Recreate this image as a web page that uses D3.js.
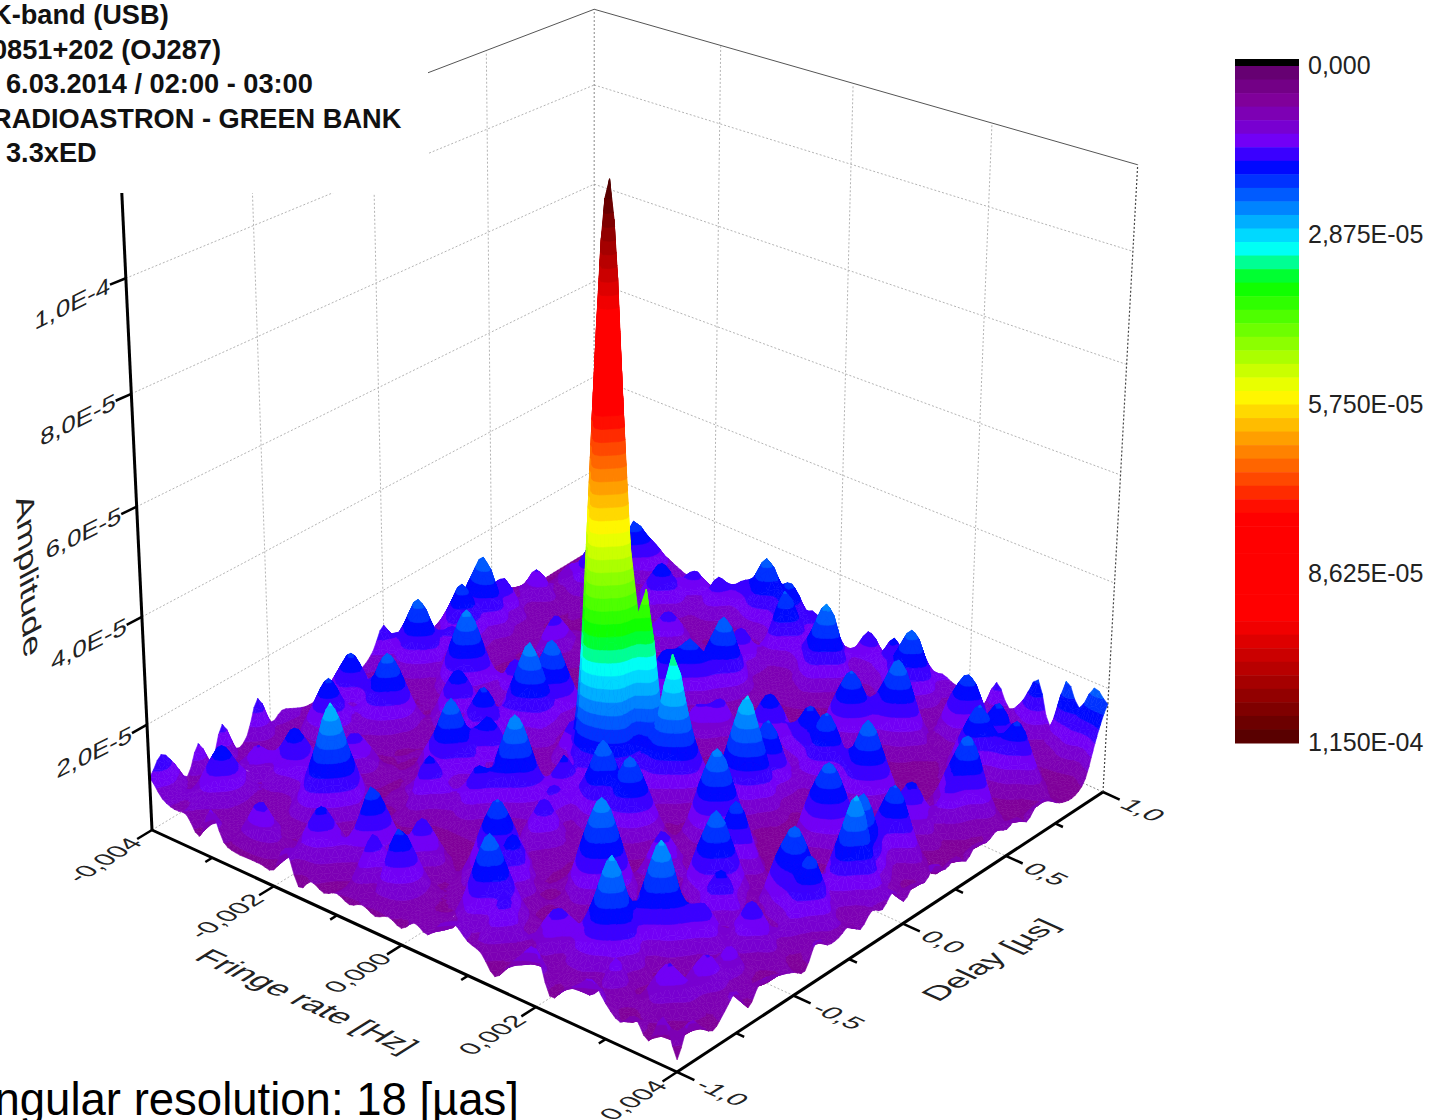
<!DOCTYPE html>
<html>
<head>
<meta charset="utf-8">
<script src="https://cdn.jsdelivr.net/npm/d3@7"></script>
<style>
  html, body { margin: 0; padding: 0; background: #fff; overflow: hidden; }
  svg { display: block; font-family: "Liberation Sans", Arial, sans-serif; }
</style>
</head>
<body>
<div id="chart"></div>
<script>
// tick labels
const fringeTicks = [-0.004, -0.002, 0, 0.002, 0.004];
const fringeLabels = ['-0,004', '-0,002', '0,000', '0,002', '0,004'];
const delayTicks = [-1, -0.5, 0, 0.5, 1];
const delayLabels = ['-1,0', '-0,5', '0,0', '0,5', '1,0'];
const amplitudeTicks = [20, 40, 60, 80, 100];
const amplitudeLabels = ['2,0E-5', '4,0E-5', '6,0E-5', '8,0E-5', '1,0E-4'];
const colorbarTicks = [0, 28.75, 57.5, 86.25, 115];
const colorbarLabels = ['0,000', '2,875E-05', '5,750E-05', '8,625E-05', '1,150E-04'];
const infoLines = ['K-band (USB)', '0851+202 (OJ287)', '6.03.2014 / 02:00 - 03:00', 'RADIOASTRON - GREEN BANK', '3.3xED'];

// amplitude in units of 1E-6, one row per fringe rate step, one column per delay step
const amplitude = [
[10,13,10,6,11,6,12,6,7,13,7,8,7,6,6,7,7,7,7,9,13,7,7,7,6,7,7,8,7,6,6,6,5,4,4,3,3,3,3,3,3],
[7,8,6,5,5,5,6,4,4,6,4,4,6,4,8,12,8,5,4,6,9,14,9,6,8,12,11,15,10,10,6,5,7,5,4,4,3,3,3,3,4],
[6,6,8,11,8,5,8,5,4,4,4,8,11,8,11,16,11,6,4,6,13,19,13,9,12,17,13,20,13,13,8,7,11,7,6,8,6,5,5,4,5],
[6,7,11,15,11,8,11,7,4,4,4,11,16,11,8,12,8,5,4,5,9,14,10,12,9,12,10,14,9,9,5,5,8,5,7,10,7,5,5,4,5],
[3,5,8,11,8,6,8,11,7,4,4,8,11,8,10,14,10,5,4,4,5,8,6,9,6,6,5,7,5,5,4,4,4,5,10,14,10,7,8,5,5],
[9,5,5,5,5,7,11,15,11,5,4,5,6,7,14,19,14,6,4,5,10,15,10,5,4,4,4,4,4,4,4,3,4,4,5,7,6,12,17,12,7],
[4,4,4,4,5,6,10,11,8,6,9,6,4,5,9,14,10,5,4,7,15,21,15,7,4,3,4,4,5,4,4,4,3,4,4,5,5,6,12,12,8],
[3,8,5,4,5,7,10,8,6,9,12,9,4,4,4,6,5,7,11,7,10,15,10,6,4,3,3,9,12,9,5,4,4,3,4,5,6,6,8,8,7],
[3,12,8,5,8,12,17,12,8,5,8,6,4,4,4,4,6,11,15,11,6,7,9,7,4,3,3,5,7,5,4,4,4,4,5,8,11,8,8,6,6],
[3,8,5,4,10,17,25,17,10,4,4,4,4,4,4,5,5,7,11,7,5,9,13,9,4,3,3,3,4,4,4,5,4,4,6,11,15,11,9,6,6],
[3,4,5,5,6,12,17,12,6,4,4,4,5,9,5,5,8,12,8,6,9,8,9,7,4,3,3,3,3,4,4,4,5,6,5,7,11,9,12,9,6],
[8,7,10,7,4,6,9,6,4,4,6,5,10,14,10,7,11,16,11,11,16,12,15,10,5,3,3,3,3,3,4,4,6,9,6,5,6,7,9,7,6],
[2,10,14,10,5,4,4,3,4,5,9,7,14,20,14,10,7,11,8,15,22,14,20,14,7,3,3,3,3,3,3,5,9,12,9,5,5,9,13,9,6],
[4,7,10,7,6,4,3,3,5,10,14,10,10,14,11,15,11,5,5,11,16,11,14,10,5,3,3,3,3,3,3,3,6,9,6,4,4,6,9,12,8],
[3,4,7,12,17,12,6,3,3,5,10,7,7,10,8,11,8,4,6,8,7,6,6,5,4,3,3,3,5,4,3,3,3,4,4,4,4,6,10,14,10],
[4,4,5,9,12,9,4,3,3,4,7,10,7,8,7,7,5,4,5,6,5,4,4,4,3,3,4,7,11,8,4,4,3,3,4,4,5,7,14,19,14],
[3,9,13,9,6,9,6,3,3,4,10,14,11,16,11,6,5,5,8,12,8,5,4,4,3,3,5,11,15,12,7,7,5,5,9,5,5,7,11,15,11],
[4,5,9,5,9,13,9,4,3,4,5,10,16,22,16,8,5,6,10,20,22,10,5,4,3,3,4,8,12,17,12,14,8,9,13,9,6,9,13,16,11],
[3,11,16,11,5,9,5,3,3,4,4,5,11,16,11,7,7,12,26,84,45,16,9,5,3,3,3,4,6,12,14,20,14,9,9,7,13,18,13,12,8],
[4,8,12,8,4,4,4,4,4,4,3,4,7,9,10,14,11,22,82,113,72,20,10,5,4,3,6,4,3,5,9,14,9,5,5,6,9,13,10,12,7],
[3,5,5,4,4,6,9,13,9,6,6,9,9,12,9,9,9,18,42,76,20,16,9,6,4,5,11,8,4,4,4,4,4,4,4,5,10,8,8,6,6],
[5,5,4,4,6,9,13,18,13,7,9,13,9,5,10,14,11,13,20,20,41,16,9,6,4,5,8,12,8,4,4,3,4,4,5,10,15,10,9,7,6],
[4,4,5,5,5,7,11,13,9,5,6,8,5,6,14,20,14,8,10,15,18,13,8,5,4,3,4,6,4,4,3,3,3,4,7,15,21,15,10,8,6],
[7,5,9,14,9,11,15,11,5,4,4,4,5,7,10,15,11,7,9,18,31,19,9,5,4,3,4,7,11,7,3,3,3,3,4,8,15,8,7,13,9],
[8,8,14,20,14,8,10,4,4,4,4,4,4,6,14,19,14,6,5,11,20,14,8,5,4,4,5,11,15,11,5,4,3,3,3,4,5,6,8,10,7],
[6,6,10,14,10,5,4,4,4,8,5,4,4,4,10,14,10,4,4,5,9,7,8,7,6,4,4,8,11,8,4,3,6,3,3,3,4,6,10,14,9],
[5,9,12,9,6,4,3,5,11,16,11,5,3,3,4,6,5,4,5,4,5,12,18,12,13,8,6,9,12,9,6,9,13,9,4,3,4,10,14,10,8],
[2,5,8,4,3,3,4,8,16,22,16,7,4,5,3,3,4,10,15,10,5,18,25,13,18,12,6,12,16,12,6,13,18,13,7,4,5,14,19,14,8],
[5,4,5,9,5,3,3,5,11,16,11,5,9,12,9,5,6,15,21,15,6,12,18,11,13,8,9,14,12,9,5,9,13,11,15,10,5,9,14,9,9],
[8,5,9,12,9,4,3,3,4,8,5,3,5,9,5,4,4,10,15,10,4,4,8,5,5,6,13,18,13,6,4,4,6,14,20,14,6,4,6,5,8],
[10,5,5,9,9,6,3,3,3,4,4,3,4,7,4,6,11,8,6,4,3,3,3,3,4,4,9,13,9,4,3,3,4,9,14,9,4,6,4,3,9],
[3,4,8,11,16,11,5,8,4,4,4,4,10,14,10,12,17,12,5,3,3,3,6,3,3,4,10,14,10,4,3,3,3,4,7,4,9,13,9,4,6],
[5,5,8,16,23,16,11,16,11,4,4,7,14,20,14,7,12,5,3,3,3,10,14,10,3,7,14,20,14,6,3,3,3,3,4,5,12,17,12,7,12],
[7,4,5,11,16,11,16,23,16,6,7,10,10,14,10,4,6,4,3,3,6,14,19,14,5,4,10,14,10,4,3,3,3,4,6,5,6,12,8,5,8],
[9,6,10,6,8,4,11,16,11,6,10,14,10,7,4,6,3,3,3,3,3,10,14,10,3,3,5,7,4,3,3,3,3,9,13,9,12,6,5,6,11],
[6,4,5,3,3,4,6,10,13,10,5,10,5,4,10,14,10,4,3,4,5,5,6,5,3,5,10,5,3,4,7,4,3,13,18,13,16,11,6,8,16],
[4,3,5,8,5,3,3,5,9,6,9,6,4,8,14,19,14,5,8,10,14,9,9,13,9,10,14,10,5,9,14,10,5,6,13,12,12,6,4,5,8],
[6,4,8,11,6,8,4,7,4,9,13,9,5,10,14,14,10,10,16,13,20,14,12,18,12,5,9,6,11,14,19,14,5,4,11,16,11,5,4,7,18],
[3,3,4,8,8,11,8,10,6,5,9,6,8,12,17,12,8,16,23,16,13,8,6,12,7,3,4,3,6,8,13,8,3,3,5,11,6,3,4,10,14],
[8,3,3,4,4,6,5,5,3,3,5,3,4,6,10,6,4,7,14,8,6,4,3,6,3,3,3,3,3,4,6,4,3,3,3,5,3,3,3,8,19],
[2,7,5,3,5,7,3,6,6,5,4,3,7,5,5,6,4,6,5,7,4,6,5,7,5,6,4,6,5,6,5,6,4,6,6,4,3,3,5,12,17]
];

const width = 1437;
const height = 1120;
const maxAmp = 115;
const levels = 50;
const colorBias = 3; // surface colour sits a bit above its drawn height in the original
const meshSteps = 3; // draw the sheet with a rounded curve between the read values

// floor corners on screen, their weights along the floor and for the height
const floorL = [152, 830], floorF = [677, 1072], floorR = [1103, 792], floorB = [594, 562];
const pL = 15.43, pF = 14.0, pR = 15.79, pB = 17.2;
const hL = 15.43, hF = 13.02, hR = 15.79, hB = 18.2;
const vanish = [590, 10069];

const xScale = d3.scaleLinear().domain([-0.004, 0.004]).range([0, 1]);
const yScale = d3.scaleLinear().domain([-1, 1]).range([0, 1]);
const zScale = d3.scaleLinear().domain([0, maxAmp]).range([0, 1]);

const colorScale = d3.scaleLinear()
    .domain([0, 0.05, 0.085, 0.115, 0.146, 0.208, 0.268, 0.32, 0.484, 0.66, 0.815, 1].map(d => d * maxAmp))
    .range(['#600068', '#80009a', '#7a00c8', '#7000ff', '#0000ff', '#0080ff', '#00ffff', '#00ff00', '#ffff00', '#ff0000', '#ff0000', '#500000'])
    .clamp(true);

function project(u, v, t) {
    const a = (1 - u) * (1 - v), b = u * (1 - v), c = u * v, d = (1 - u) * v;
    const p = pL * a + pF * b + pR * c + pB * d;
    const px = (pL * a * floorL[0] + pF * b * floorF[0] + pR * c * floorR[0] + pB * d * floorB[0]) / p;
    const py = (pL * a * floorL[1] + pF * b * floorF[1] + pR * c * floorR[1] + pB * d * floorB[1]) / p;
    const s = t / (hL * a + hF * b + hR * c + hB * d - t);
    return [px + (px - vanish[0]) * s, py + (py - vanish[1]) * s];
}

const svg = d3.select('#chart').append('svg')
    .attr('width', width)
    .attr('height', height)
    .attr('viewBox', `0 0 ${width} ${height}`);

function seg(parent, a, b, stroke, sw, dash) {
    parent.append('line')
        .attr('x1', a[0]).attr('y1', a[1]).attr('x2', b[0]).attr('y2', b[1])
        .attr('stroke', stroke).attr('stroke-width', sw)
        .attr('stroke-dasharray', dash || null);
}

// walls and floor
const grid = svg.append('g').attr('class', 'grid');
const gridColor = '#b4b4b4';
const dots = '2 2';
[-0.5, 0, 0.5].forEach(d => {
    const v = yScale(d);
    seg(grid, project(0, v, 0), project(0, v, 1), gridColor, 1, dots);
    seg(grid, project(0, v, 0), project(1, v, 0), gridColor, 1, dots);
});
fringeTicks.slice(1, 4).forEach(d => {
    const u = xScale(d);
    seg(grid, project(u, 1, 0), project(u, 1, 1), gridColor, 1, dots);
    seg(grid, project(u, 0, 0), project(u, 1, 0), gridColor, 1, dots);
});
amplitudeTicks.forEach(d => {
    const t = zScale(d);
    seg(grid, project(0, 0, t), project(0, 1, t), gridColor, 1, dots);
    seg(grid, project(0, 1, t), project(1, 1, t), gridColor, 1, dots);
});
seg(grid, project(0, 0, 0), project(0, 1, 0), gridColor, 1, dots);
seg(grid, project(0, 1, 0), project(1, 1, 0), '#888', 1, dots);
seg(grid, project(0, 1, 0), project(0, 1, 1), '#888', 1, dots);
seg(grid, project(1, 1, 0), project(1, 1, 1), '#444', 1.2, dots);
seg(grid, project(0, 0, 1), project(0, 1, 1), '#555', 1);
seg(grid, project(0, 1, 1), project(1, 1, 1), '#555', 1);

// rounded curve through the read values, same idea as d3.curveCatmullRom on a line
function roundRow(values) {
    const n = values.length;
    const out = [];
    for (let k = 0; k < n - 1; k++) {
        const p0 = values[Math.max(k - 1, 0)], p1 = values[k], p2 = values[k + 1], p3 = values[Math.min(k + 2, n - 1)];
        for (let s = 0; s < meshSteps; s++) {
            const t = s / meshSteps;
            out.push(0.5 * (2 * p1 + (p2 - p0) * t + (2 * p0 - 5 * p1 + 4 * p2 - p3) * t * t + (3 * p1 - p0 - 3 * p2 + p3) * t * t * t));
        }
    }
    out.push(values[n - 1]);
    return out.map(d => Math.max(d, 1));
}
const byDelay = amplitude.map(roundRow);
const mesh = d3.transpose(d3.transpose(byDelay).map(roundRow));

// clip a triangle to one side of an amplitude level
function clipAbove(poly, lim, sign) {
    const out = [];
    poly.forEach((p, k) => {
        const q = poly[(k + 1) % poly.length];
        const dp = sign * (p[2] - lim), dq = sign * (q[2] - lim);
        if (dp >= 0) out.push(p);
        if ((dp >= 0) !== (dq >= 0)) {
            const f = dp / (dp - dq);
            out.push([p[0] + (q[0] - p[0]) * f, p[1] + (q[1] - p[1]) * f, p[2] + (q[2] - p[2]) * f]);
        }
    });
    return out;
}

const step = maxAmp / levels;
const rows = mesh.length;
const cols = mesh[0].length;
const vertex = (i, j) => [i / (rows - 1), j / (cols - 1), mesh[i][j]];

// back to front: small fringe index and large delay index are far from the viewer
const cells = [];
d3.range(rows - 1).forEach(i => d3.range(cols - 1).forEach(j => cells.push([i, j])));
cells.sort((a, b) => (a[0] - a[1]) - (b[0] - b[1]));

const facets = [];
cells.forEach(([i, j]) => {
    const a = vertex(i, j), b = vertex(i + 1, j), c = vertex(i + 1, j + 1), d = vertex(i, j + 1);
    [[a, c, d], [a, b, c]].forEach(tri => {
        const zs = tri.map(p => p[2]);
        const k0 = Math.floor((d3.min(zs) + colorBias) / step);
        const k1 = Math.floor((d3.max(zs) + colorBias) / step);
        for (let k = k0; k <= k1; k++) {
            const lo = k * step - colorBias, hi = lo + step;
            const poly = clipAbove(clipAbove(tri, lo, 1), hi, -1);
            if (poly.length < 3) continue;
            facets.push({ poly, color: colorScale((k + 0.5) * step) });
        }
    });
});

const line = d3.line();
svg.append('g').attr('class', 'surface')
    .selectAll('path')
    .data(facets)
    .join('path')
    .attr('d', d => line(d.poly.map(p => project(p[0], p[1], zScale(p[2])))) + 'Z')
    .attr('fill', d => d.color)
    .attr('stroke', d => d.color)
    .attr('stroke-width', 0.6)
    .attr('stroke-linejoin', 'round');

// axes
const axes = svg.append('g').attr('class', 'axes');
seg(axes, project(0, 0, 0), project(0, 0, 1), '#000', 3);
seg(axes, project(0, 0, 0), project(1, 0, 0), '#000', 3);
seg(axes, project(1, 0, 0), project(1, 1, 0), '#000', 3);

amplitudeTicks.forEach(d => seg(axes, project(0, 0, zScale(d)), project(0, -0.03, zScale(d)), '#000', 2.5));
d3.range(-0.004, 0.0041, 0.001).forEach((d, k) => {
    const u = xScale(d);
    seg(axes, project(u, 0, 0), project(u, k % 2 ? -0.014 : -0.03, 0), '#000', 2.5);
});
d3.range(-1, 1.01, 0.25).forEach((d, k) => {
    const v = yScale(d);
    seg(axes, project(1, v, 0), project(k % 2 ? 1.014 : 1.03, v, 0), '#000', 2.5);
});

// text lying in the planes of the box: dirX runs along the baseline, dirY down the glyphs
function unit(a, b, scale) {
    const dx = b[0] - a[0], dy = b[1] - a[1], n = Math.hypot(dx, dy);
    return [dx / n * scale, dy / n * scale];
}
function planeText(text, pos, dirX, dirY, size, anchor) {
    svg.append('text')
        .attr('transform', `matrix(${dirX[0]},${dirX[1]},${dirY[0]},${dirY[1]},${pos[0]},${pos[1]})`)
        .attr('text-anchor', anchor)
        .attr('dominant-baseline', 'central')
        .attr('font-size', size)
        .attr('fill', '#222')
        .text(text);
}

const alongU = s => unit(project(0, 0.5, 0), project(1, 0.5, 0), s);
const alongV = s => unit(project(0.5, 0, 0), project(0.5, 1, 0), s);
const againstV = s => unit(project(0.5, 1, 0), project(0.5, 0, 0), s);

fringeTicks.forEach((d, k) => {
    planeText(fringeLabels[k], project(xScale(d), -0.033, 0), alongV(1.32), alongU(1.25), 20, 'end');
});
delayTicks.forEach((d, k) => {
    planeText(delayLabels[k], project(1.04, yScale(d), 0), alongU(1.4), againstV(1.2), 20, 'start');
});
amplitudeTicks.forEach((d, k) => {
    planeText(amplitudeLabels[k], project(0, -0.03, zScale(d)), [1.28, -0.64], [0, 1.15], 20, 'end');
});
planeText('Fringe rate [Hz]', [307, 1001], alongU(1.4), againstV(1.25), 24, 'middle');
planeText('Delay [\u00b5s]', [990, 960], alongV(1.35), alongU(1.25), 24, 'middle');
planeText('Amplitude', [29, 575], [0.06, 1.2], [-0.85, 0.45], 30, 'middle');

// white box behind the info text hides the corner of the walls
svg.append('rect').attr('x', 0).attr('y', 0).attr('width', 428).attr('height', 193).attr('fill', '#fff');

svg.append('g').selectAll('text')
    .data(infoLines)
    .join('text')
    .attr('x', (d, k) => (k === 2 || k === 4) ? 6 : -8)
    .attr('y', (d, k) => 24 + k * 34.5)
    .attr('font-size', 27.2)
    .attr('font-weight', 'bold')
    .attr('fill', '#111')
    .text(d => d);

svg.append('text')
    .attr('x', 519)
    .attr('y', 1115)
    .attr('text-anchor', 'end')
    .attr('font-size', 45.5)
    .attr('fill', '#000')
    .text('Angular resolution: 18 [\u00b5as]');

// colour bar, value 0 on top
const barY = d3.scaleLinear().domain([0, maxAmp]).range([66, 743]);
const bar = svg.append('g').attr('class', 'colorbar');
bar.append('rect').attr('x', 1235).attr('y', 59).attr('width', 64).attr('height', 7).attr('fill', '#000');
bar.selectAll('rect.step')
    .data(d3.range(levels))
    .join('rect')
    .attr('class', 'step')
    .attr('x', 1235)
    .attr('width', 64)
    .attr('y', d => barY(d * step))
    .attr('height', d => barY((d + 1) * step) - barY(d * step) + 0.5)
    .attr('fill', d => colorScale((d + 0.5) * step));
bar.selectAll('text')
    .data(colorbarTicks)
    .join('text')
    .attr('x', 1308)
    .attr('y', d => barY(d) + 8)
    .attr('font-size', 25)
    .attr('fill', '#222')
    .text((d, k) => colorbarLabels[k]);
</script>
</body>
</html>
